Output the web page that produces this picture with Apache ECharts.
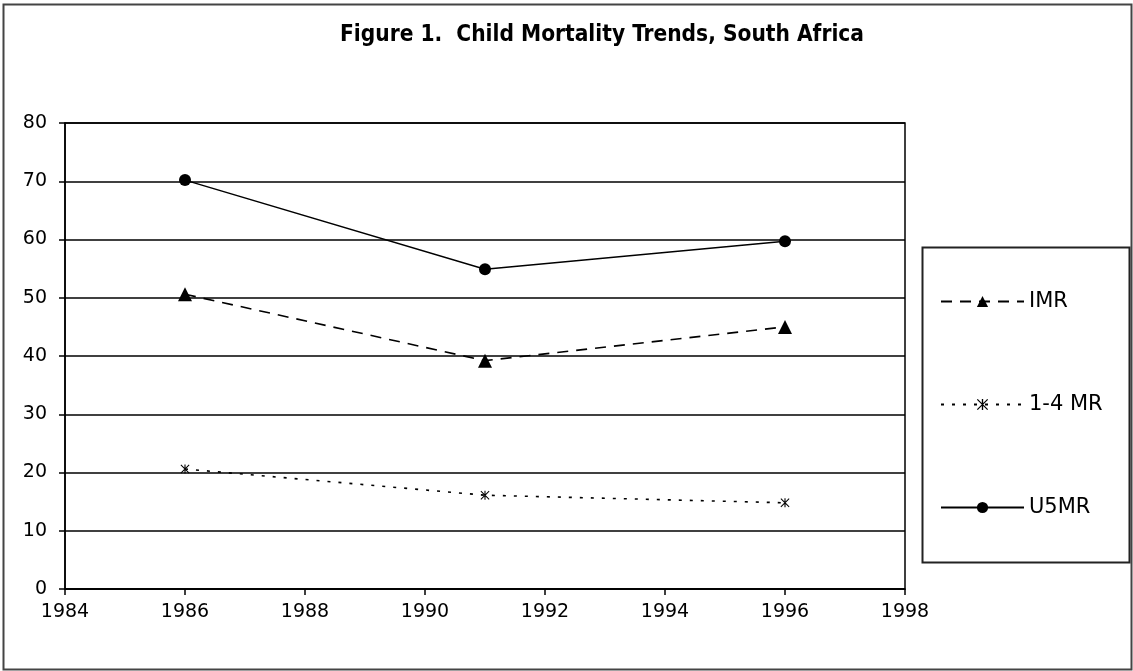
<!DOCTYPE html>
<html>
<head>
<meta charset="utf-8">
<script src="https://cdn.jsdelivr.net/npm/echarts@6/dist/echarts.min.js"></script>
<style>
html,body{margin:0;padding:0;background:#fff;}
#chart{width:1133px;height:671px;}
</style>
</head>
<body>
<div id="chart"></div>
<script>
// ---- data ----
const years = [1986, 1991, 1996];
const imr = [50.6, 39.2, 45.0];
const mr14 = [20.6, 16.1, 14.8];
const u5mr = [70.2, 54.9, 59.7];
const seriesNames = ['IMR', '1-4 MR', 'U5MR'];
const titleText = 'Figure 1.  Child Mortality Trends, South Africa';

const pair = (xs, ys) => xs.map((x, i) => [x, ys[i]]);
const starPath = 'path://M4.4,0 L5.6,0 L5.6,10 L4.4,10 Z M0,0.8 L0.8,0 L10,9.2 L9.2,10 Z M9.2,0 L10,0.8 L0.8,10 L0,9.2 Z';

const chart = echarts.init(document.getElementById('chart'));
const font = '"DejaVu Sans", "Liberation Sans", Arial, sans-serif';
chart.setOption({
  animation: false,
  backgroundColor: '#fff',
  title: {
    text: titleText,
    left: 597, top: 19, textAlign: 'center',
    textStyle: {fontFamily: '"DejaVu Sans Condensed", "Liberation Sans Narrow", "Liberation Sans", Arial, sans-serif', fontWeight: 'bold', fontSize: 22.5, color: '#000'}
  },
  graphic: [
    {type: 'rect', left: 1, top: 2, shape: {width: 1128, height: 665}, style: {fill: 'none', stroke: '#444', lineWidth: 2}, silent: true},
    {type: 'rect', left: 920, top: 245, shape: {width: 207, height: 315}, style: {fill: 'none', stroke: '#222', lineWidth: 2}, silent: true}
  ],
  grid: {left: 65, right: 228, top: 123, bottom: 82, show: true, borderColor: '#000', borderWidth: 1.5},
  legend: {
    data: seriesNames,
    orient: 'vertical',
    left: 935, top: 286,
    itemWidth: 83, itemHeight: 14, itemGap: 82,
    textStyle: {fontFamily: font, fontSize: 21, color: '#000', lineHeight: 20}
  },
  xAxis: {
    type: 'value', min: 1984, max: 1998, interval: 2,
    axisLine: {show: true, lineStyle: {color: '#000', width: 1.5}},
    axisTick: {show: true, length: 6, lineStyle: {color: '#000', width: 1.5}},
    axisLabel: {fontFamily: font, fontSize: 19, color: '#000', margin: 14, formatter: v => String(v)},
    splitLine: {show: false}
  },
  yAxis: {
    type: 'value', min: 0, max: 80, interval: 10,
    axisLine: {show: true, lineStyle: {color: '#000', width: 1.5}},
    axisTick: {show: true, length: 6, lineStyle: {color: '#000', width: 1.5}},
    axisLabel: {fontFamily: font, fontSize: 19, color: '#000', margin: 18},
    splitLine: {show: true, lineStyle: {color: '#000', width: 1.5}}
  },
  series: [
    {name: 'IMR', type: 'line', data: pair(years, imr), symbol: 'triangle', symbolSize: 14,
     itemStyle: {color: '#000'}, lineStyle: {color: '#000', width: 1.6, type: [11, 8]}},
    {name: '1-4 MR', type: 'line', data: pair(years, mr14), symbol: starPath, symbolSize: 9,
     itemStyle: {color: '#000'}, lineStyle: {color: '#000', width: 1.6, type: [3, 8]}},
    {name: 'U5MR', type: 'line', data: pair(years, u5mr), symbol: 'circle', symbolSize: 12,
     itemStyle: {color: '#000'}, lineStyle: {color: '#000', width: 1.4, type: 'solid'}}
  ]
});
</script>
</body>
</html>
